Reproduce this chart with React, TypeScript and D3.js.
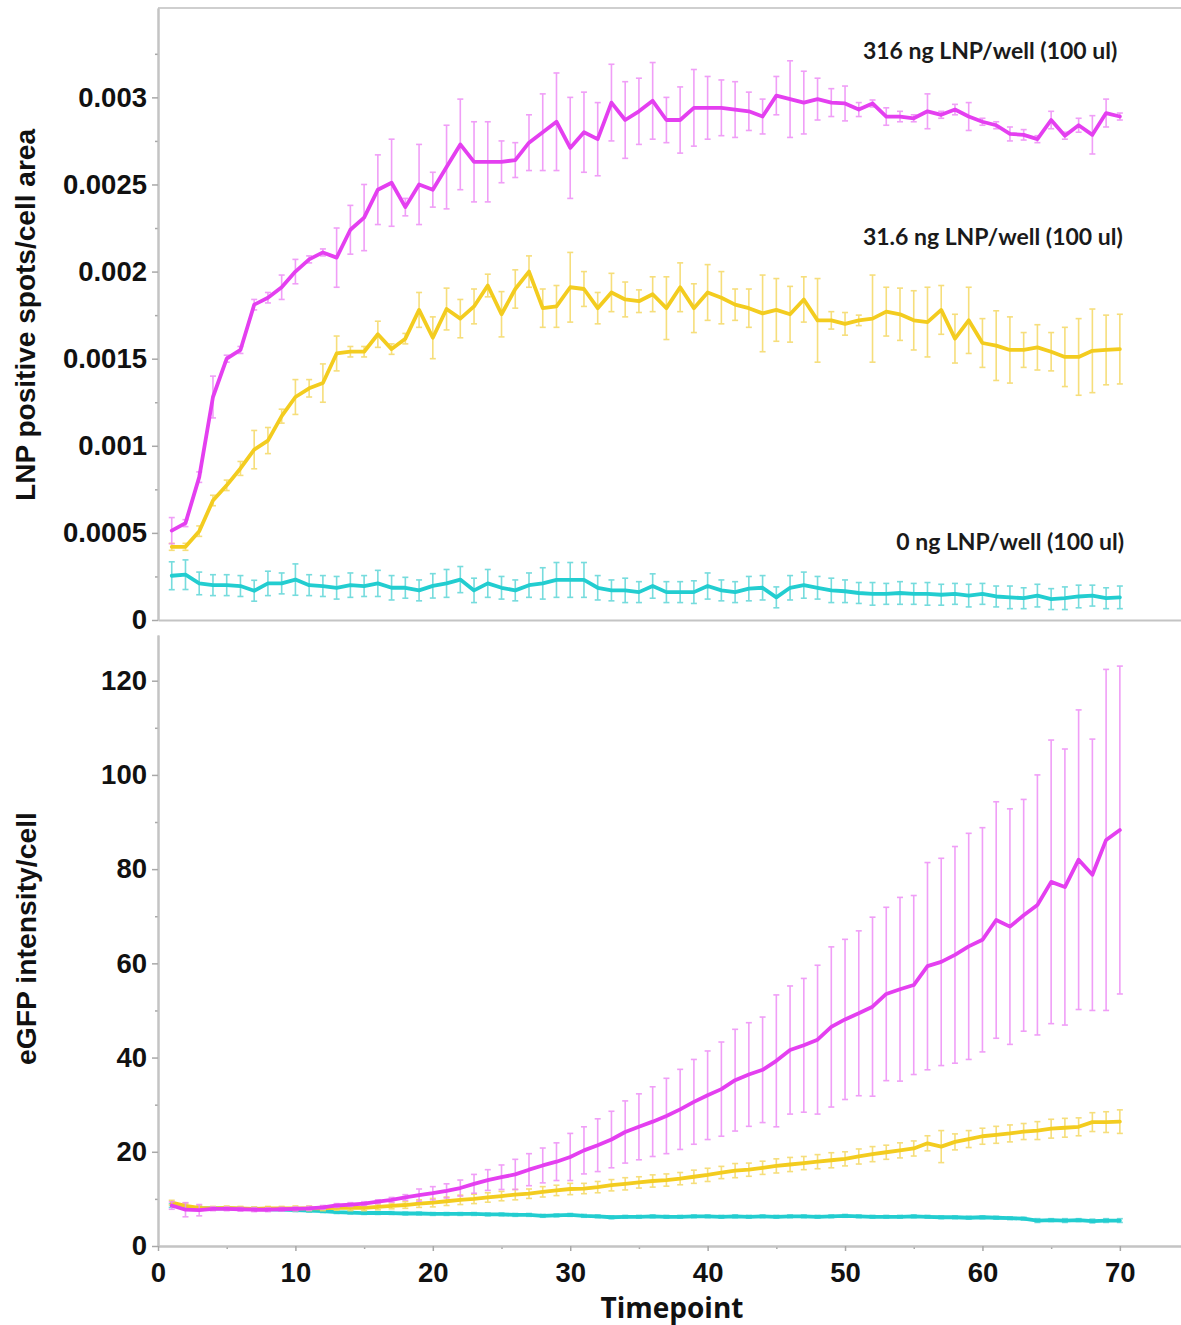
import React, { useEffect, useRef } from 'react';
import * as d3 from 'd3';

const timepoints = [
  1, 2, 3, 4, 5, 6, 7, 8, 9, 10, 11, 12, 13, 14, 15, 16, 17, 18, 19, 20,
  21, 22, 23, 24, 25, 26, 27, 28, 29, 30, 31, 32, 33, 34, 35, 36, 37, 38, 39, 40,
  41, 42, 43, 44, 45, 46, 47, 48, 49, 50, 51, 52, 53, 54, 55, 56, 57, 58, 59, 60,
  61, 62, 63, 64, 65, 66, 67, 68, 69, 70,
];

// LNP positive spots / cell area (top panel)
const spots316 = [
  0.000513, 0.000556, 0.00082, 0.00128, 0.0015, 0.00155, 0.00181, 0.00185, 0.00191, 0.002,
  0.00207, 0.00211, 0.00208, 0.00224, 0.00231, 0.00247, 0.00251, 0.00237, 0.0025, 0.00247,
  0.0026, 0.00273, 0.00263, 0.00263, 0.00263, 0.00264, 0.00274, 0.0028, 0.00286, 0.00271,
  0.0028, 0.00276, 0.00297, 0.00287, 0.00292, 0.00298, 0.00287, 0.00287, 0.00294, 0.00294,
  0.00294, 0.00293, 0.00292, 0.00289, 0.00301, 0.00299, 0.00297, 0.00299, 0.00297, 0.002965,
  0.00293, 0.002965, 0.00289, 0.00289, 0.00288, 0.00292, 0.0029, 0.00293, 0.00289, 0.00286,
  0.00284, 0.00279, 0.002785, 0.00276, 0.00287, 0.00278, 0.00284, 0.002785, 0.00291, 0.00289,
];
const spots316Err = [
  0.000075, 0.00002, 0.00003, 0.00012, 0.00002, 0.00002, 0.00003, 0.00003, 0.00007, 0.00007,
  0.00002, 0.00002, 0.00017, 0.00014, 0.00019, 0.0002, 0.00025, 0.00005, 0.00023, 0.0001,
  0.00024, 0.00026, 0.00023, 0.00023, 0.00012, 0.0001, 0.00016, 0.00022, 0.00028, 0.00029,
  0.00023, 0.00021, 0.00022, 0.00022, 0.00019, 0.00022, 0.00013, 0.00019, 0.00022, 0.00018,
  0.00016, 0.00016, 0.00011, 0.0001, 0.00011, 0.00022, 0.00018, 0.00012, 0.00008, 0.0001,
  0.00004, 0.00002, 0.00005, 0.00003, 0.00002, 0.0001, 0.00002, 0.00003, 0.00008, 0.00002,
  0.00002, 0.00004, 0.00003, 0.00002, 0.00005, 0.00002, 0.00004, 0.00011, 0.00008, 0.00002,
];
const spots31 = [
  0.00042, 0.00042, 0.00051, 0.000686, 0.000773, 0.00087, 0.000978, 0.00103, 0.00117, 0.00128,
  0.00133, 0.00136, 0.00153, 0.00154, 0.00154, 0.00164, 0.001555, 0.001615, 0.00178, 0.00162,
  0.001785, 0.00173, 0.0018, 0.00192, 0.001755, 0.0019, 0.002, 0.00179, 0.0018, 0.00191,
  0.0019, 0.00179, 0.00188, 0.00184, 0.00183, 0.00187, 0.00179, 0.00191, 0.00179, 0.00188,
  0.00185, 0.00181, 0.00179, 0.00176, 0.00178, 0.001755, 0.00184, 0.00172, 0.00172, 0.0017,
  0.00172, 0.00173, 0.00177, 0.001755, 0.00172, 0.00171, 0.00178, 0.001615, 0.00172, 0.00159,
  0.001575, 0.00155, 0.00155, 0.001565, 0.00154, 0.00151, 0.00151, 0.001545, 0.00155, 0.001555,
];
const spots31Err = [
  0.00002, 0.00002, 0.00003, 0.00003, 0.00003, 0.00004, 0.00011, 0.000075, 0.00004, 0.0001,
  0.00005, 0.00011, 0.0001, 0.00003, 0.00003, 0.000075, 0.00003, 0.00003, 0.0001, 0.00012,
  0.00012, 0.00011, 0.0001, 0.000065, 0.00013, 0.00011, 0.00009, 0.00011, 0.00012, 0.0002,
  0.0001, 0.00009, 0.00011, 0.0001, 0.000065, 0.0001, 0.00018, 0.00014, 0.00014, 0.00016,
  0.00015, 0.00009, 0.00011, 0.00022, 0.00018, 0.00016, 0.00013, 0.00024, 0.00005, 0.000065,
  0.00003, 0.00025, 0.00014, 0.00015, 0.00017, 0.0002, 0.00014, 0.00014, 0.00019, 0.00014,
  0.0002, 0.00019, 0.0001, 0.00013, 0.00011, 0.00017, 0.00022, 0.00024, 0.0002, 0.0002,
];
const spots0 = [
  0.000254, 0.00026, 0.00021, 0.0002, 0.0002, 0.000195, 0.000168, 0.00021, 0.00021, 0.000232,
  0.0002, 0.000195, 0.000185, 0.0002, 0.000195, 0.00021, 0.000185, 0.000185, 0.00017, 0.000196,
  0.00021, 0.000232, 0.00017, 0.00021, 0.000185, 0.00017, 0.0002, 0.00021, 0.00023, 0.00023,
  0.00023, 0.000185, 0.00017, 0.00017, 0.00016, 0.000195, 0.00016, 0.00016, 0.00016, 0.000195,
  0.00017, 0.00016, 0.00018, 0.000185, 0.00013, 0.000185, 0.0002, 0.000185, 0.00017, 0.000165,
  0.000155, 0.00015, 0.00015, 0.000155, 0.00015, 0.00015, 0.000145, 0.00015, 0.00014, 0.00015,
  0.000135, 0.00013, 0.000125, 0.00014, 0.00012, 0.000125, 0.000135, 0.00014, 0.000125, 0.00013,
];
const spots0Err = [
  0.00008, 0.000085, 0.000065, 0.00006, 0.00006, 0.00006, 0.00006, 0.00007, 0.00006, 0.00009,
  0.00006, 0.00006, 0.000065, 0.00007, 0.00006, 0.000075, 0.00007, 0.00006, 0.00006, 0.00007,
  0.00008, 0.000075, 0.00007, 0.00008, 0.000065, 0.00006, 0.00007, 0.00009, 0.0001, 0.0001,
  0.0001, 0.00007, 0.00006, 0.00007, 0.00006, 0.00007, 0.00006, 0.00006, 0.000065, 0.000075,
  0.00006, 0.00006, 0.00007, 0.00007, 0.00006, 0.00007, 0.000075, 0.000065, 0.00007, 0.000065,
  0.00006, 0.000065, 0.00006, 0.000065, 0.00006, 0.000065, 0.00006, 0.00006, 0.000065, 0.00006,
  0.00006, 0.000065, 0.00006, 0.000065, 0.00006, 0.000065, 0.000065, 0.00006, 0.00006, 0.000065,
];

// eGFP intensity / cell (bottom panel)
const egfp316 = [
  8.6, 7.7, 7.6, 7.9, 7.9, 7.8, 7.7, 7.7, 7.8, 7.9,
  8.0, 8.2, 8.6, 8.8, 9.0, 9.4, 9.8, 10.3, 10.8, 11.2,
  11.7, 12.3, 13.2, 14.0, 14.6, 15.2, 16.2, 17.1, 17.9, 18.9,
  20.3, 21.4, 22.6, 24.2, 25.3, 26.4, 27.6, 29.0, 30.6, 32.0,
  33.3, 35.2, 36.4, 37.4, 39.3, 41.6, 42.6, 43.8, 46.5, 48.1,
  49.4, 50.8, 53.5, 54.5, 55.4, 59.4, 60.3, 61.8, 63.6, 65.0,
  69.2, 67.8, 70.2, 72.4, 77.3, 76.2, 82.0, 78.8, 86.2, 88.3,
];
const egfp316Err = [
  0.8, 1.5, 1.2, 0.4, 0.4, 0.4, 0.4, 0.4, 0.4, 0.4,
  0.4, 0.4, 0.4, 0.4, 0.4, 0.4, 0.5, 0.6, 1.3, 1.4,
  1.5, 1.7, 2.0, 2.2, 2.6, 3.2, 3.4, 3.7, 4.0, 5.0,
  5.0, 5.6, 6.0, 6.6, 7.0, 7.4, 8.0, 8.5, 9.0, 9.4,
  10.0, 10.8, 11.0, 11.2, 14.0, 13.6, 14.2, 15.8, 17.0, 17.0,
  17.5, 19.0, 18.4, 19.5, 19.0, 22.0, 22.0, 23.0, 24.0, 23.8,
  25.1, 25.0, 24.6, 27.6, 30.1, 29.3, 31.8, 28.8, 36.2, 34.8,
];
const egfp31 = [
  9.2, 8.5, 8.1, 8.0, 8.1, 8.0, 7.9, 8.0, 8.0, 8.0,
  8.0, 8.0, 8.1, 8.1, 8.1, 8.3, 8.5, 8.7, 9.0, 9.2,
  9.5, 9.8, 10.0, 10.3, 10.6, 10.9, 11.1, 11.5, 11.8, 12.1,
  12.2, 12.5, 12.9, 13.2, 13.5, 13.8, 14.0, 14.3, 14.7, 15.1,
  15.6, 16.0, 16.2, 16.6, 17.0, 17.3, 17.6, 17.9, 18.2, 18.5,
  19.0, 19.5, 19.9, 20.3, 20.7, 21.8, 21.1, 22.1, 22.7, 23.3,
  23.6, 23.9, 24.3, 24.5, 24.9, 25.1, 25.3, 26.3, 26.3, 26.4,
];
const egfp31Err = [
  0.5, 0.6, 0.5, 0.4, 0.4, 0.4, 0.4, 0.4, 0.4, 0.5,
  0.5, 0.5, 0.5, 0.6, 0.6, 0.6, 0.6, 0.7, 0.8, 0.9,
  0.9, 1.0, 1.0, 1.0, 1.0, 1.1, 1.0, 1.1, 1.1, 1.2,
  1.1, 1.2, 1.2, 1.3, 1.2, 1.3, 1.3, 1.3, 1.4, 1.4,
  1.3, 1.5, 1.4, 1.4, 1.5, 1.5, 1.4, 1.5, 1.6, 1.5,
  1.6, 1.6, 1.5, 1.6, 1.6, 1.6, 3.4, 1.7, 1.8, 1.7,
  1.8, 1.8, 1.7, 1.9, 2.0, 2.0, 1.9, 2.0, 2.2, 2.5,
];
const egfp0 = [
  8.6, 8.2, 8.0, 8.0, 8.0, 7.9, 7.9, 7.8, 7.7, 7.6,
  7.5, 7.4, 7.2, 7.1, 7.0, 7.0, 7.0, 6.9, 6.9, 6.8,
  6.8, 6.8, 6.8, 6.7, 6.7, 6.6, 6.6, 6.4, 6.5, 6.6,
  6.4, 6.3, 6.1, 6.2, 6.2, 6.3, 6.2, 6.2, 6.3, 6.3,
  6.2, 6.3, 6.2, 6.3, 6.2, 6.3, 6.3, 6.2, 6.3, 6.4,
  6.3, 6.2, 6.2, 6.2, 6.3, 6.2, 6.1, 6.1, 6.0, 6.1,
  6.0, 5.9, 5.8, 5.4, 5.5, 5.4, 5.5, 5.3, 5.4, 5.4,
];
const egfp0Err = [
  0.4, 0.4, 0.3, 0.3, 0.3, 0.3, 0.3, 0.3, 0.3, 0.3,
  0.3, 0.3, 0.3, 0.3, 0.3, 0.3, 0.3, 0.3, 0.3, 0.3,
  0.3, 0.3, 0.3, 0.3, 0.3, 0.3, 0.3, 0.3, 0.3, 0.3,
  0.3, 0.3, 0.3, 0.3, 0.3, 0.3, 0.3, 0.3, 0.3, 0.3,
  0.3, 0.3, 0.3, 0.3, 0.3, 0.3, 0.3, 0.3, 0.3, 0.3,
  0.3, 0.3, 0.3, 0.3, 0.3, 0.3, 0.3, 0.3, 0.3, 0.3,
  0.3, 0.3, 0.3, 0.4, 0.3, 0.4, 0.3, 0.4, 0.4, 0.4,
];

const topTicks = [0, 0.0005, 0.001, 0.0015, 0.002, 0.0025, 0.003];
const topTickLabels = ['0', '0.0005', '0.001', '0.0015', '0.002', '0.0025', '0.003'];
const topMinorTicks = [0.00025, 0.00075, 0.00125, 0.00175, 0.00225, 0.00275, 0.00325];
const bottomTicks = [0, 20, 40, 60, 80, 100, 120];
const bottomMinorTicks = [10, 30, 50, 70, 90, 110];
const xTicks = [0, 10, 20, 30, 40, 50, 60, 70];
const xMinorTicks = [5, 15, 25, 35, 45, 55, 65];
const doseLabels = ['316 ng LNP/well (100 ul)', '31.6 ng LNP/well (100 ul)', '0 ng LNP/well (100 ul)'];

const COLORS = {
  high: { line: '#e43ff0', bar: '#ee8ef6' },
  mid: { line: '#f3cc1f', bar: '#f5d965' },
  zero: { line: '#22cdd0', bar: '#5fd6d8' },
};

const W = 1181;
const H = 1325;
const TICK_FONT = '"Liberation Sans", Arial, sans-serif';

function App() {
  const svgRef = useRef<SVGSVGElement>(null);

  useEffect(() => {
    const svg = d3.select(svgRef.current);
    svg.selectAll('*').remove();

    const x = d3.scaleLinear().domain([0, 74.45]).range([158, W]);
    const yTop = d3.scaleLinear().domain([0, 0.003513]).range([620, 8]);
    const yBot = d3.scaleLinear().domain([0, 129.7]).range([1246, 635]);

    const styleAxis = (g) => {
      g.select('.domain').attr('stroke', '#c4c4c4').attr('stroke-width', 2);
      g.selectAll('.tick line').attr('stroke', '#a8a8a8').attr('stroke-width', 1.5);
      g.selectAll('.tick text')
        .attr('font-family', TICK_FONT)
        .attr('font-weight', 'bold')
        .attr('font-size', 27.5)
        .attr('fill', '#111');
    };

    // top panel frame
    svg.append('line')
      .attr('x1', x(0)).attr('x2', W)
      .attr('y1', yTop.range()[1]).attr('y2', yTop.range()[1])
      .attr('stroke', '#cfcfcf').attr('stroke-width', 2);

    svg.append('g')
      .attr('transform', `translate(0, ${yTop(0)})`)
      .call(d3.axisBottom(x).tickValues([]).tickSizeOuter(0))
      .call(styleAxis);

    svg.append('g')
      .attr('transform', `translate(${x(0)}, 0)`)
      .call(d3.axisLeft(yTop).tickValues(topMinorTicks).tickSize(3).tickSizeOuter(0).tickFormat(() => ''))
      .call(styleAxis);

    svg.append('g')
      .attr('transform', `translate(${x(0)}, 0)`)
      .call(d3.axisLeft(yTop).tickValues(topTicks).tickSize(6).tickPadding(5).tickSizeOuter(0)
        .tickFormat((d, i) => topTickLabels[i]))
      .call(styleAxis);

    // bottom panel axes
    svg.append('g')
      .attr('transform', `translate(${x(0)}, 0)`)
      .call(d3.axisLeft(yBot).tickValues(bottomMinorTicks).tickSize(3).tickSizeOuter(0).tickFormat(() => ''))
      .call(styleAxis);

    svg.append('g')
      .attr('transform', `translate(${x(0)}, 0)`)
      .call(d3.axisLeft(yBot).tickValues(bottomTicks).tickSize(6).tickPadding(5).tickSizeOuter(0))
      .call(styleAxis);

    svg.append('g')
      .attr('transform', `translate(0, ${yBot(0)})`)
      .call(d3.axisBottom(x).tickValues(xMinorTicks).tickSize(3).tickSizeOuter(0).tickFormat(() => ''))
      .call(styleAxis);

    svg.append('g')
      .attr('transform', `translate(0, ${yBot(0)})`)
      .call(d3.axisBottom(x).tickValues(xTicks).tickSize(5).tickPadding(11).tickSizeOuter(0))
      .call(styleAxis);

    // series with error bars
    const drawSeries = (values, errs, yScale, color, lineWidth) => {
      const g = svg.append('g');
      const bars = g.append('g')
        .attr('stroke', color.bar)
        .attr('stroke-width', 1.6)
        .attr('opacity', 0.85);
      values.forEach((v, i) => {
        const cx = x(timepoints[i]);
        const lo = yScale(v - errs[i]);
        const hi = yScale(v + errs[i]);
        bars.append('line').attr('x1', cx).attr('x2', cx).attr('y1', lo).attr('y2', hi);
        bars.append('line').attr('x1', cx - 3).attr('x2', cx + 3).attr('y1', lo).attr('y2', lo);
        bars.append('line').attr('x1', cx - 3).attr('x2', cx + 3).attr('y1', hi).attr('y2', hi);
      });
      const line = d3.line()
        .x((d, i) => x(timepoints[i]))
        .y((d) => yScale(d));
      g.append('path')
        .datum(values)
        .attr('d', line)
        .attr('fill', 'none')
        .attr('stroke', color.line)
        .attr('stroke-width', lineWidth)
        .attr('stroke-linejoin', 'round')
        .attr('stroke-linecap', 'round');
    };

    drawSeries(spots0, spots0Err, yTop, COLORS.zero, 3.8);
    drawSeries(spots31, spots31Err, yTop, COLORS.mid, 3.8);
    drawSeries(spots316, spots316Err, yTop, COLORS.high, 3.8);

    drawSeries(egfp0, egfp0Err, yBot, COLORS.zero, 3.8);
    drawSeries(egfp31, egfp31Err, yBot, COLORS.mid, 3.8);
    drawSeries(egfp316, egfp316Err, yBot, COLORS.high, 3.8);

    // dose labels, anchored in data space of the top panel
    const labelSpecs = [
      { t: 51.3, v: 0.00322, anchor: 'start' },
      { t: 51.3, v: 0.00215, anchor: 'start' },
      { t: 70.3, v: 0.000402, anchor: 'end' },
    ];
    labelSpecs.forEach((s, i) => {
      svg.append('text')
        .attr('x', x(s.t))
        .attr('y', yTop(s.v))
        .attr('text-anchor', s.anchor)
        .attr('font-family', 'Lato, "Open Sans", sans-serif')
        .attr('font-weight', 'bold')
        .attr('font-size', 23)
        .attr('fill', '#1a1a1a')
        .text(doseLabels[i]);
    });

    // axis titles
    svg.append('text')
      .attr('transform', `translate(35, ${(yTop(0) + yTop.range()[1]) / 2 + 1}) rotate(-90)`)
      .attr('text-anchor', 'middle')
      .attr('font-family', TICK_FONT)
      .attr('font-weight', 'bold')
      .attr('font-size', 27)
      .attr('textLength', 372)
      .attr('lengthAdjust', 'spacingAndGlyphs')
      .attr('fill', '#111')
      .text('LNP positive spots/cell area');

    svg.append('text')
      .attr('transform', `translate(36, ${(yBot(0) + yBot.range()[1]) / 2 - 2}) rotate(-90)`)
      .attr('text-anchor', 'middle')
      .attr('font-family', TICK_FONT)
      .attr('font-weight', 'bold')
      .attr('font-size', 27)
      .attr('textLength', 253)
      .attr('lengthAdjust', 'spacingAndGlyphs')
      .attr('fill', '#111')
      .text('eGFP intensity/cell');

    svg.append('text')
      .attr('x', 672)
      .attr('y', 1318)
      .attr('text-anchor', 'middle')
      .attr('font-family', '"Open Sans", sans-serif')
      .attr('font-weight', 'bold')
      .attr('font-size', 28)
      .attr('fill', '#111')
      .text('Timepoint');
  }, []);

  return (
    <svg
      ref={svgRef}
      width={W}
      height={H}
      style={{ position: 'absolute', left: 0, top: 0, background: '#fff' }}
    />
  );
}

export default App;
